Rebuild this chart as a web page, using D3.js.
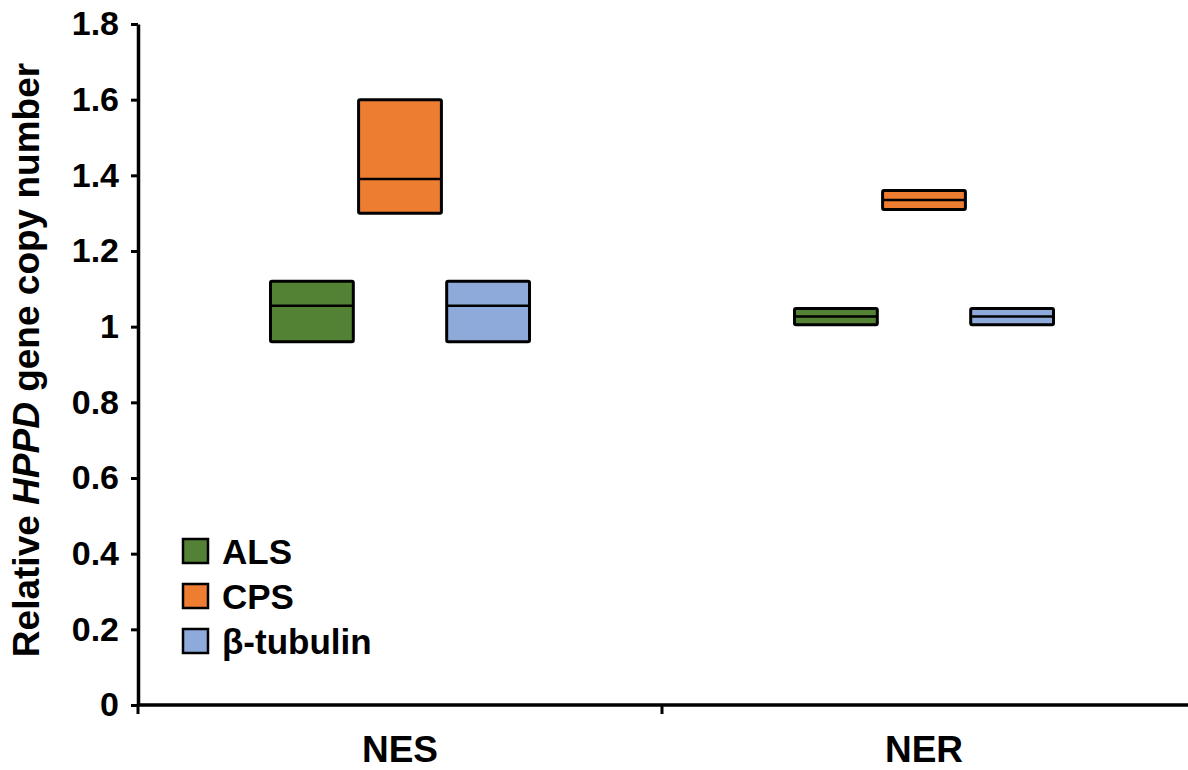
<!DOCTYPE html>
<html>
<head>
<meta charset="utf-8">
<script src="https://cdn.jsdelivr.net/npm/d3@7"></script>
<style>
  html, body { margin: 0; padding: 0; background: #fff; }
  svg { display: block; font-family: Arial, "Liberation Sans", sans-serif; }
</style>
</head>
<body>
<svg id="chart" width="1188" height="770"></svg>
<script>
// Populations on the x axis
const groups = ["NES", "NER"];
// Reference genes used for normalisation
const genes = ["ALS", "CPS", "β-tubulin"];
const geneColors = ["#548235", "#ed7d31", "#8eaadb"];

// Relative HPPD copy number: low / median / high per gene, per population
const lowNES = [0.96, 1.30, 0.96];
const medNES = [1.055, 1.39, 1.055];
const highNES = [1.12, 1.60, 1.12];

const lowNER = [1.005, 1.31, 1.005];
const medNER = [1.027, 1.335, 1.027];
const highNER = [1.048, 1.36, 1.048];

const yTicks = [0, 0.2, 0.4, 0.6, 0.8, 1, 1.2, 1.4, 1.6, 1.8];
const yTickLabels = ["0", "0.2", "0.4", "0.6", "0.8", "1", "1.2", "1.4", "1.6", "1.8"];

const rows = [];
groups.forEach((g, gi) => {
  const lo = gi === 0 ? lowNES : lowNER;
  const md = gi === 0 ? medNES : medNER;
  const hi = gi === 0 ? highNES : highNER;
  genes.forEach((gene, i) => {
    rows.push({ group: g, gene, color: geneColors[i], low: lo[i], med: md[i], high: hi[i] });
  });
});

const svg = d3.select("#chart");
const plotLeft = 138, plotRight = 1186, plotTop = 24, plotBottom = 705;

const x = d3.scaleBand().domain(groups).range([plotLeft, plotRight]).padding(0);
const y = d3.scaleLinear().domain([0, 1.8]).range([plotBottom, plotTop]);

// Boxes within each population
const groupWidth = 259;
const xi = d3.scaleBand().domain(genes).range([0, groupWidth]).paddingInner(0.06);

const boxes = svg.append("g").attr("class", "boxes");
rows.forEach(d => {
  const x0 = x(d.group) + x.bandwidth() / 2 - groupWidth / 2 + xi(d.gene);
  boxes.append("rect")
    .attr("x", x0)
    .attr("y", y(d.high))
    .attr("width", xi.bandwidth())
    .attr("height", y(d.low) - y(d.high))
    .attr("fill", d.color)
    .attr("stroke", "#000")
    .attr("stroke-width", 3)
    .attr("rx", 1.5);
  boxes.append("line")
    .attr("x1", x0).attr("x2", x0 + xi.bandwidth())
    .attr("y1", y(d.med)).attr("y2", y(d.med))
    .attr("stroke", "#000")
    .attr("stroke-width", 2.5);
});

// Y axis
const yAxis = d3.axisLeft(y)
  .tickValues(yTicks)
  .tickFormat((d, i) => yTickLabels[i])
  .tickSize(7)
  .tickSizeOuter(0)
  .tickPadding(12);
const gy = svg.append("g").attr("transform", `translate(${plotLeft},0)`).call(yAxis);
gy.select(".domain").attr("stroke-width", 3.5);
gy.selectAll(".tick line").attr("stroke-width", 3);
gy.selectAll(".tick text")
  .attr("font-size", 34)
  .attr("font-weight", "bold")
  .attr("font-family", "Arial, 'Liberation Sans', sans-serif")
  .attr("fill", "#000");

// X axis: line with ticks at population boundaries
const gx = svg.append("g");
gx.append("line")
  .attr("x1", plotLeft).attr("x2", 1188)
  .attr("y1", y(0)).attr("y2", y(0))
  .attr("stroke", "#000").attr("stroke-width", 3.5);
const bounds = [x(groups[0]), x(groups[1])];
gx.selectAll("line.tk").data(bounds).enter().append("line")
  .attr("class", "tk")
  .attr("x1", d => d).attr("x2", d => d)
  .attr("y1", y(0)).attr("y2", y(0) + 9)
  .attr("stroke", "#000").attr("stroke-width", 3);
gx.selectAll("text").data(groups).enter().append("text")
  .attr("x", d => x(d) + x.bandwidth() / 2)
  .attr("y", 762)
  .attr("text-anchor", "middle")
  .attr("font-size", 37)
  .attr("font-weight", "bold")
  .text(d => d);

// Y axis title
const title = svg.append("text")
  .attr("transform", `translate(39,${360}) rotate(-90)`)
  .attr("text-anchor", "middle")
  .attr("font-size", 37)
  .attr("font-weight", "bold");
title.append("tspan").text("Relative ");
title.append("tspan").attr("font-style", "italic").text("HPPD");
title.append("tspan").text(" gene copy number");

// Legend
const legend = svg.append("g").attr("transform", "translate(183,539)");
genes.forEach((gene, i) => {
  const row = legend.append("g").attr("transform", `translate(0,${i * 45})`);
  row.append("rect")
    .attr("x", 0).attr("y", 0)
    .attr("width", 25).attr("height", 24)
    .attr("fill", geneColors[i])
    .attr("stroke", "#000").attr("stroke-width", 2.5);
  row.append("text")
    .attr("x", 39).attr("y", 25)
    .attr("font-size", 35)
    .attr("font-weight", "bold")
    .text(gene);
});
</script>
</body>
</html>
